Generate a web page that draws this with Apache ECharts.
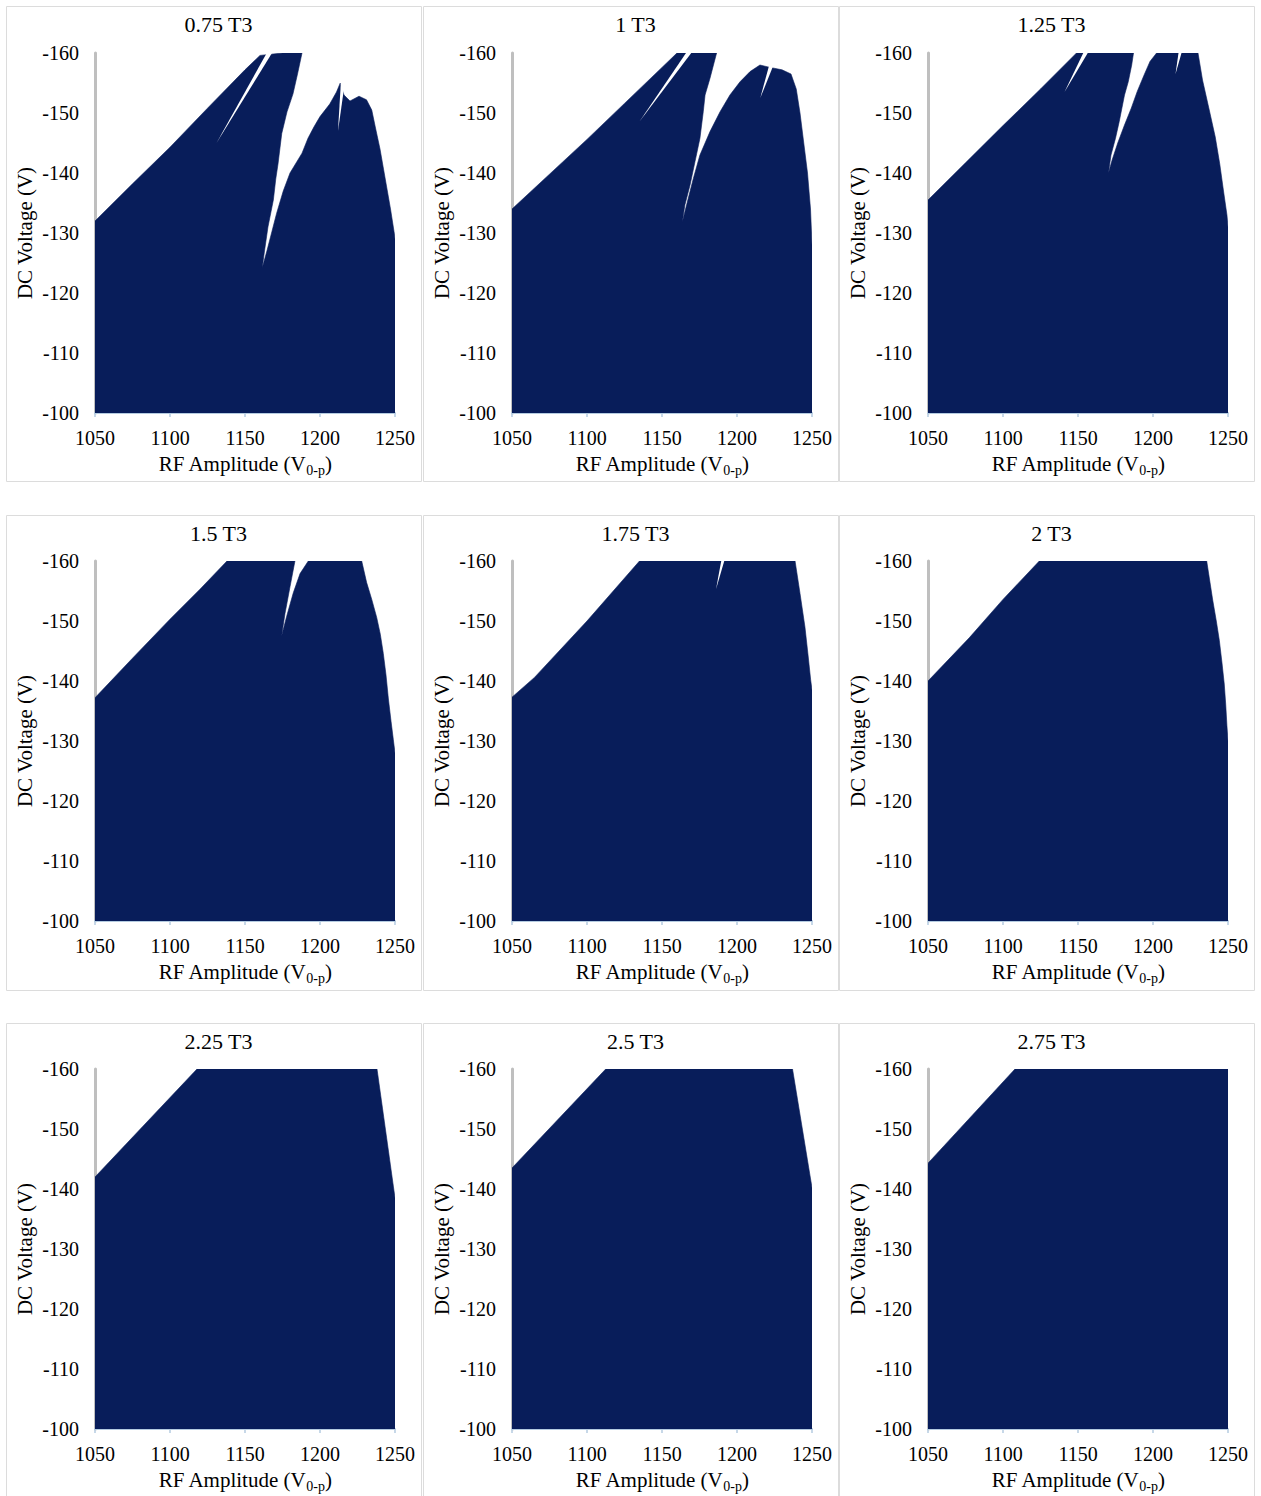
<!DOCTYPE html>
<html>
<head>
<meta charset="utf-8">
<script src="https://cdn.jsdelivr.net/npm/echarts@6/dist/echarts.min.js"></script>
<style>
html,body{margin:0;padding:0;background:#ffffff;}
#chart{width:1261px;height:1496px;}
</style>
</head>
<body>
<div id="chart"></div>
<script>
// ---------------- DATA ----------------
const panelTitles = ['0.75 T3', '1 T3', '1.25 T3', '1.5 T3', '1.75 T3', '2 T3', '2.25 T3', '2.5 T3', '2.75 T3'];
const xTicks = [1050, 1100, 1150, 1200, 1250];          // RF amplitude (V0-p)
const yTicks = [-160, -150, -140, -130, -120, -110, -100]; // DC voltage (V)

// Upper boundary of the stable region [RF, DC], left to right (region extends down to -100 V)
const boundary_075 = [
  [1050,-132],[1075,-138.2],[1100,-144.3],[1125,-150.8],[1150,-157.2],[1160,-159.6],[1175,-160],[1188,-160],
  [1185,-156.5],[1182,-153.2],[1178,-150.2],[1174.5,-146.6],[1172,-141.5],[1170.5,-139],[1168.9,-135.5],[1165.3,-131],[1163,-127],[1161.5,-124.2],
  [1164.6,-127],[1168,-130.3],[1171.1,-133.3],[1175.5,-137],[1180,-140],[1188,-143.3],[1192,-145.8],[1196,-147.7],[1200,-149.4],[1206.5,-151.5],[1211,-153.5],[1213.5,-155],
  [1216,-153],[1220,-152],[1226,-152.8],[1231,-152.2],[1234.5,-150.5],[1237,-147.5],[1240,-144],[1243.5,-139],[1247,-134],[1249.5,-130],[1250,-129]
];
const gaps_075 = [
  [[1131,-145],[1164.5,-160],[1168,-160]],
  [[1212,-147],[1214,-155.5],[1216.5,-155]]
];

const boundary_1 = [
  [1050,-134],[1075,-139.8],[1100,-145.6],[1125,-151.6],[1150,-157.6],[1160,-160],[1186.4,-160],
  [1182,-155.8],[1178.7,-153],[1177.5,-150.2],[1175.3,-145.8],[1172,-141.9],[1168.7,-138],[1165.3,-134.7],[1163.5,-131.8],
  [1166.4,-134.7],[1170.9,-139.1],[1175.3,-143],[1182,-146.9],[1188.7,-150.2],[1195.3,-153],[1202,-155.2],[1208.7,-156.9],[1215.3,-158],
  [1222,-157.6],[1230,-157.2],[1236,-156.5],[1239.5,-154],[1242,-150],[1244.5,-145],[1247,-140],[1249,-134],[1250,-128]
];
const gaps_1 = [
  [[1135,-148.6],[1166,-160],[1169.5,-160]],
  [[1215.5,-152.5],[1221.5,-158],[1224,-157.8]]
];

const boundary_125 = [
  [1050,-135.5],[1075,-141.7],[1100,-147.9],[1125,-154],[1149,-160],[1187,-160],
  [1185.8,-158],[1183.5,-155.2],[1181,-153],[1177.5,-148.6],[1175,-145.8],[1172,-143],[1170.3,-140],
  [1172.8,-142.2],[1176.5,-145],[1181,-148],[1185.5,-150.8],[1189.5,-153.6],[1194,-156.3],[1198,-158.6],[1202.4,-160],
  [1230,-160],[1233,-155.5],[1237.5,-150.5],[1241.5,-146],[1244.5,-141.5],[1247,-137],[1249.3,-133],[1250,-131]
];
const gaps_125 = [
  [[1141,-153.5],[1153.5,-160],[1156.5,-160]],
  [[1215,-156.5],[1217,-160],[1219,-160]]
];

const boundary_15 = [
  [1050,-137.2],[1075,-143.8],[1100,-150.3],[1120,-155.3],[1138,-160],[1183.3,-160],
  [1180,-155.7],[1176.7,-151.3],[1174.4,-147.5],
  [1177.8,-150.8],[1182.2,-154.7],[1186.7,-157.9],[1192.2,-160],[1227.8,-160],
  [1231.1,-156.4],[1234.5,-153.6],[1237.8,-150.6],[1240.2,-147.8],[1242.2,-144.6],[1244,-141],[1245.6,-137],[1247.4,-133.2],[1248.9,-130.2],[1250,-128]
];
const gaps_15 = [];

const boundary_175 = [
  [1050,-137.3],[1065,-140.6],[1100,-150],[1135,-160],[1238.7,-160],
  [1242,-154.6],[1245.3,-149],[1247.5,-144],[1249.1,-140.2],[1250,-138.5]
];
const gaps_175 = [
  [[1186,-155.3],[1189.5,-160],[1191.5,-160]]
];

const boundary_2 = [
  [1050,-140],[1077.5,-147.2],[1100,-153.6],[1124.2,-160],[1235.8,-160],
  [1239.8,-153.5],[1242.2,-150],[1244.2,-146.8],[1246,-143],[1247.5,-139.5],[1248.5,-136],[1249.3,-132.5],[1250,-130]
];
const gaps_2 = [];

const boundary_225 = [[1050,-142],[1118,-160],[1238,-160],[1250,-138.5]];
const gaps_225 = [];

const boundary_25 = [[1050,-143.5],[1112.5,-160],[1237,-160],[1250,-140.2]];
const gaps_25 = [];

const boundary_275 = [[1050,-144.3],[1108,-160],[1250,-160]];
const gaps_275 = [];

const boundaries = [boundary_075, boundary_1, boundary_125, boundary_15, boundary_175, boundary_2, boundary_225, boundary_25, boundary_275];
const gapsList = [gaps_075, gaps_1, gaps_125, gaps_15, gaps_175, gaps_2, gaps_225, gaps_25, gaps_275];

// ---------------- LAYOUT / STYLE ----------------
const FONT = '"Liberation Serif", "Times New Roman", serif';
const NAVY = '#081d5a';
const GRID_LEFT = [95, 512, 928];
const GRID_TOP = [53, 561, 1069];
const BOX_LEFT = [6, 423, 839];
const BOX_TOP = [6, 515, 1023];
const BOX_W = 415, BOX_H = 475;
const PLOT_W = 300, PLOT_H = 360;

const X_MIN = xTicks[0], X_MAX = xTicks[xTicks.length - 1];
const Y_MIN = yTicks[0], Y_MAX = yTicks[yTicks.length - 1];

const grids = [], xAxes = [], yAxes = [], series = [], titles = [], graphics = [];

for (let i = 0; i < 9; i++) {
  const c = i % 3, r = Math.floor(i / 3);
  grids.push({
    left: GRID_LEFT[c], top: GRID_TOP[r], width: PLOT_W, height: PLOT_H,
    containLabel: false, outerBoundsMode: 'none'
  });
  xAxes.push({
    gridIndex: i, type: 'value', min: X_MIN, max: X_MAX, interval: 50, position: 'bottom',
    axisLine: { show: true, onZero: false, lineStyle: { color: '#b4cbe0', width: 2 } },
    axisTick: { show: true, length: 4, lineStyle: { color: '#b4cbe0', width: 1.5 } },
    splitLine: { show: false },
    axisLabel: {
      color: '#000', fontFamily: FONT, fontSize: 20, margin: 15,
      showMinLabel: true, showMaxLabel: true, hideOverlap: false,
      formatter: function (v) { return String(v); }
    },
    name: '{a|RF Amplitude (V}{s|0-p}{a|)}',
    nameLocation: 'middle', nameGap: 38,
    nameTextStyle: {
      rich: {
        a: { fontFamily: FONT, fontSize: 21, color: '#000', lineHeight: 26, verticalAlign: 'middle' },
        s: { fontFamily: FONT, fontSize: 14, color: '#000', lineHeight: 12, verticalAlign: 'bottom' }
      }
    }
  });
  yAxes.push({
    gridIndex: i, type: 'value', inverse: true, min: Y_MIN, max: Y_MAX, interval: 10,
    axisLine: { show: true, onZero: false, lineStyle: { color: '#bfbfbf', width: 3 } },
    axisTick: { show: false },
    splitLine: { show: false },
    axisLabel: {
      color: '#000', fontFamily: FONT, fontSize: 20, margin: 16,
      showMinLabel: true, showMaxLabel: true, hideOverlap: false,
      formatter: function (v) { return String(v); }
    },
    name: 'DC Voltage (V)',
    nameLocation: 'middle', nameGap: 60,
    nameTextStyle: { fontFamily: FONT, fontSize: 21, color: '#000' }
  });
  const boundary = boundaries[i];
  const gaps = gapsList[i];
  series.push({
    type: 'custom', name: panelTitles[i], xAxisIndex: i, yAxisIndex: i, silent: true, clip: true,
    encode: { x: 0, y: 1 },
    data: boundary,
    renderItem: function (params, api) {
      if (params.dataIndex !== 0) return null;
      const outline = [[X_MIN, Y_MAX]].concat(boundary, [[X_MAX, Y_MAX]]).map(p => api.coord(p));
      const children = [{ type: 'polygon', shape: { points: outline }, style: { fill: NAVY, stroke: NAVY, lineWidth: 0.6 } }];
      gaps.forEach(g => {
        children.push({ type: 'polygon', shape: { points: g.map(p => api.coord(p)) }, style: { fill: '#ffffff' } });
      });
      return { type: 'group', children: children };
    }
  });
  titles.push({
    text: panelTitles[i],
    left: BOX_LEFT[c] + BOX_W / 2, top: BOX_TOP[r] + 2, textAlign: 'center',
    textStyle: { fontFamily: FONT, fontSize: 22, fontWeight: 'normal', color: '#000' }
  });
  graphics.push({
    type: 'rect', z: -10, silent: true,
    shape: { x: BOX_LEFT[c] + 0.5, y: BOX_TOP[r] + 0.5, width: BOX_W, height: BOX_H },
    style: { fill: 'none', stroke: '#dcdcdc', lineWidth: 1 }
  });
}

const chart = echarts.init(document.getElementById('chart'), null, { renderer: 'svg' });
chart.setOption({
  animation: false,
  backgroundColor: '#ffffff',
  title: titles,
  grid: grids,
  xAxis: xAxes,
  yAxis: yAxes,
  series: series,
  graphic: graphics
});
</script>
</body>
</html>
